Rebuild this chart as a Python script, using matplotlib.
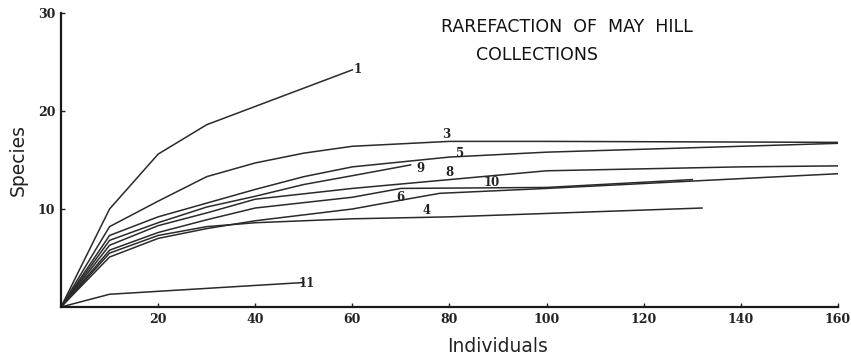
import numpy as np
import matplotlib.pyplot as plt

# rarefaction curves
x1 = [0, 10, 20, 30, 60]
y1 = [0, 10.0, 15.6, 18.6, 24.2]

x3 = [0, 10, 20, 30, 40, 50, 60, 80, 100, 160]
y3 = [0, 8.2, 10.8, 13.3, 14.7, 15.7, 16.4, 16.9, 16.9, 16.8]

x5 = [0, 10, 20, 30, 40, 50, 60, 70, 80, 100, 120, 140, 160]
y5 = [0, 7.3, 9.2, 10.6, 12.0, 13.3, 14.3, 14.8, 15.3, 15.8, 16.1, 16.4, 16.7]

x9 = [0, 10, 20, 30, 40, 50, 60, 72]
y9 = [0, 6.8, 8.6, 10.2, 11.3, 12.5, 13.4, 14.5]

x8 = [0, 10, 20, 30, 40, 60, 80, 100, 120, 140, 160]
y8 = [0, 6.3, 8.3, 9.6, 11.0, 12.1, 13.0, 13.9, 14.1, 14.3, 14.4]

x10 = [0, 10, 20, 30, 40, 60, 70, 100, 130]
y10 = [0, 5.8, 7.6, 8.9, 10.1, 11.2, 12.1, 12.2, 13.0]

x6 = [0, 10, 20, 30, 40, 60, 70, 78, 100, 160]
y6 = [0, 5.1, 7.0, 8.0, 8.8, 10.0, 10.9, 11.6, 12.1, 13.6]

x4 = [0, 10, 20, 30, 40, 60, 80, 132]
y4 = [0, 5.5, 7.3, 8.2, 8.6, 9.0, 9.2, 10.1]

x11 = [0, 10, 50]
y11 = [0, 1.3, 2.5]

curves = [(x1, y1), (x3, y3), (x5, y5), (x9, y9), (x8, y8),
          (x10, y10), (x6, y6), (x4, y4), (x11, y11)]

labels = ['1', '3', '5', '9', '8', '10', '6', '4', '11']
label_x = [61.0, 79.4, 82.1, 74.1, 80.0, 88.7, 69.8, 75.3, 50.6]
label_y = [24.2, 17.6, 15.7, 14.1, 13.7, 12.7, 11.2, 9.8, 2.4]

xticks = [20, 40, 60, 80, 100, 120, 140, 160]
yticks = [10, 20, 30]

fig = plt.figure(figsize=(8.51, 3.57), dpi=100)
ax = fig.add_axes([61 / 851, 50 / 357, 777 / 851, 294 / 357])

for xs, ys in curves:
    ax.plot(xs, ys, color='#2a2a2a', lw=1.1)

for t, lx, ly in zip(labels, label_x, label_y):
    ax.text(lx, ly, t, fontsize=8.5, fontweight='bold', family='DejaVu Serif',
            ha='center', va='center', color='#222222')

ax.set_xlim(0, 160)
ax.set_ylim(0, 30)
ax.set_xticks(xticks)
ax.set_yticks(yticks)
ax.tick_params(direction='in', length=3, width=1, colors='#222222',
               labelsize=9, pad=4)
for lab in ax.get_xticklabels() + ax.get_yticklabels():
    lab.set_fontweight('bold')
    lab.set_family('DejaVu Serif')

for side in ['top', 'right']:
    ax.spines[side].set_visible(False)
for side in ['left', 'bottom']:
    ax.spines[side].set_linewidth(1.6)
    ax.spines[side].set_color('#1a1a1a')

fig.text(18 / 851, 1 - 160 / 357, 'Species', rotation=90, fontsize=13.5,
         ha='center', va='center', color='#222222')
fig.text(498 / 851, 1 - 346 / 357, 'Individuals', fontsize=13.5,
         ha='center', va='center', color='#222222')

fig.text(567 / 851, 1 - 27 / 357, 'RAREFACTION  OF  MAY  HILL', fontsize=12.5,
         ha='center', va='center', color='#111111')
fig.text(537 / 851, 1 - 55 / 357, 'COLLECTIONS', fontsize=12.5,
         ha='center', va='center', color='#111111')

fig.savefig('out.png', dpi=100, facecolor='white')
